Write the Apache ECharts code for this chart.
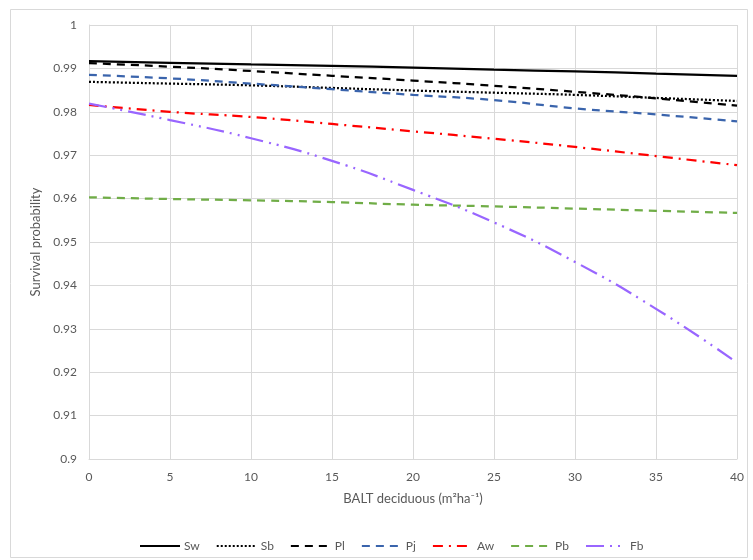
<!DOCTYPE html>
<html><head><meta charset="utf-8">
<script src="https://cdn.jsdelivr.net/npm/echarts@6/dist/echarts.min.js"></script>
<style>html,body{margin:0;padding:0;background:#fff}#c{width:753px;height:560px}</style>
</head><body><div id="c"></div>
<script>
const xValues = [0, 5, 10, 15, 20, 25, 30, 35, 40];
const Sw = [0.9917, 0.9913, 0.9909, 0.9906, 0.9902, 0.9897, 0.9893, 0.9888, 0.9883];
const Sb = [0.9869, 0.9865, 0.9861, 0.9855, 0.9849, 0.9844, 0.9839, 0.9832, 0.9825];
const Pl = [0.9912, 0.9904, 0.9894, 0.9883, 0.9872, 0.9860, 0.9846, 0.9831, 0.9814];
const Pj = [0.9885, 0.9877, 0.9865, 0.9852, 0.9839, 0.9827, 0.9808, 0.9794, 0.9778];
const Aw = [0.9816, 0.9800, 0.9788, 0.9772, 0.9755, 0.9738, 0.9719, 0.9698, 0.9677];
const Pb = [0.9603, 0.9599, 0.9596, 0.9592, 0.9586, 0.9582, 0.9577, 0.9572, 0.9567];
const Fb = [0.9819, 0.9781, 0.9739, 0.9687, 0.9620, 0.9545, 0.9454, 0.9346, 0.9222];
const xTicks = [0, 5, 10, 15, 20, 25, 30, 35, 40];
const yTicks = [0.9, 0.91, 0.92, 0.93, 0.94, 0.95, 0.96, 0.97, 0.98, 0.99, 1];

const FONT = 'Lato';
const seriesDefs = [
  {name: 'Sw', data: Sw, color: '#000000', type: 'solid'},
  {name: 'Sb', data: Sb, color: '#000000', type: [2, 2]},
  {name: 'Pl', data: Pl, color: '#000000', type: [8, 6]},
  {name: 'Pj', data: Pj, color: '#3A64AC', type: [8, 6]},
  {name: 'Aw', data: Aw, color: '#FF0000', type: [10, 6, 2, 6]},
  {name: 'Pb', data: Pb, color: '#70AD47', type: [8, 6]},
  {name: 'Fb', data: Fb, color: '#9966FF', type: [18, 6, 2, 6, 2, 6]}
];

const chart = echarts.init(document.getElementById('c'), null, {renderer: 'canvas'});
chart.setOption({
  animation: false,
  backgroundColor: '#fff',
  graphic: [{
    type: 'rect', left: 8, top: 7,
    shape: {width: 737, height: 548},
    style: {fill: 'none', stroke: '#D9D9D9', lineWidth: 1}, silent: true
  }],
  grid: {left: 89, right: 16, top: 25, bottom: 101, containLabel: false},
  legend: {
    top: 535, left: 134,
    itemWidth: 40, itemHeight: 10, itemGap: 16,
    itemStyle: {opacity: 0},
    textStyle: {fontFamily: FONT, fontSize: 12, color: '#595959', padding: [0, 0, 0, -1]},
    data: seriesDefs.map(s => s.name)
  },
  xAxis: {
    type: 'value', min: 0, max: 40, interval: 5,
    name: 'BALT deciduous (m²ha⁻¹)', nameLocation: 'middle', nameGap: 33,
    nameTextStyle: {fontFamily: FONT, fontSize: 13, color: '#595959'},
    axisLine: {show: true, lineStyle: {color: '#D9D9D9'}},
    axisTick: {show: false},
    axisLabel: {fontFamily: FONT, fontSize: 12, color: '#595959', margin: 12,
      formatter: v => xTicks.includes(v) ? String(v) : ''},
    splitLine: {show: true, lineStyle: {color: '#D9D9D9', width: 1}}
  },
  yAxis: {
    type: 'value', min: 0.9, max: 1, interval: 0.01,
    name: 'Survival probability', nameLocation: 'middle', nameGap: 46,
    nameTextStyle: {fontFamily: FONT, fontSize: 13, color: '#595959'},
    axisLine: {show: true, lineStyle: {color: '#D9D9D9'}},
    axisTick: {show: false},
    axisLabel: {fontFamily: FONT, fontSize: 12, color: '#595959', margin: 12,
      formatter: v => {
        const t = yTicks.find(y => Math.abs(y - v) < 1e-9);
        return t === undefined ? '' : String(parseFloat(t.toFixed(2)));
      }},
    splitLine: {show: true, lineStyle: {color: '#D9D9D9', width: 1}}
  },
  series: seriesDefs.map(s => ({
    name: s.name, type: 'line', smooth: true, symbol: 'none',
    data: xValues.map((x, i) => [x, s.data[i]]),
    itemStyle: {color: s.color},
    lineStyle: {color: s.color, width: 2.25, type: s.type}
  }))
});
</script></body></html>
